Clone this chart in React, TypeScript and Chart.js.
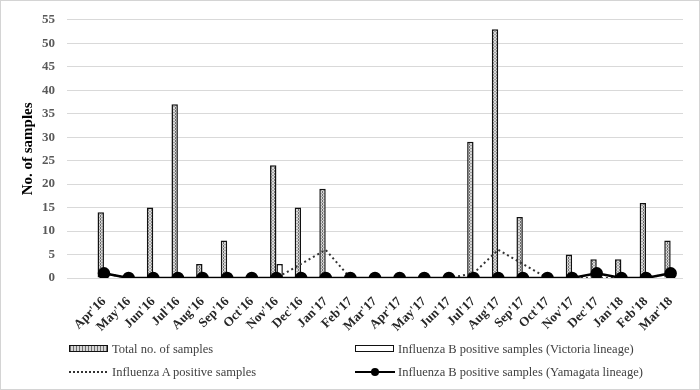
import React, { useEffect, useRef } from "react";
import { Chart, registerables } from "chart.js";
Chart.register(...registerables);

const months = [
  "Apr'16", "May'16", "Jun'16", "Jul'16", "Aug'16", "Sep'16", "Oct'16", "Nov'16", "Dec'16",
  "Jan'17", "Feb'17", "Mar'17", "Apr'17", "May'17", "Jun'17", "Jul'17", "Aug'17", "Sep'17",
  "Oct'17", "Nov'17", "Dec'17", "Jan'18", "Feb'18", "Mar'18",
];
const totalSamples = [14, 0, 15, 37, 3, 8, 0, 24, 15, 19, 0, 0, 0, 0, 0, 29, 53, 13, 0, 5, 4, 4, 16, 8];
const victoriaSamples = [0, 0, 0, 0, 0, 0, 0, 3, 0, 0, 0, 0, 0, 0, 0, 0, 0, 0, 0, 0, 0, 0, 0, 0];
const influenzaASamples = [1, 0, 0, 0, 0, 0, 0, 0, 3, 6, 0, 0, 0, 0, 0, 1, 6, 3, 0, 0, 0, 0, 0, 1];
const yamagataSamples = [1, 0, 0, 0, 0, 0, 0, 0, 0, 0, 0, 0, 0, 0, 0, 0, 0, 0, 0, 0, 1, 0, 0, 1];
const yTicks = [0, 5, 10, 15, 20, 25, 30, 35, 40, 45, 50, 55];

const SERIF = "'Liberation Serif', 'Times New Roman', serif";

function makePattern(): CanvasPattern | string {
  const c = document.createElement("canvas");
  c.width = 3;
  c.height = 3;
  const g = c.getContext("2d");
  if (!g) return "#bbb";
  g.fillStyle = "#d6d6d6";
  g.fillRect(0, 0, 3, 3);
  g.fillStyle = "#6e6e6e";
  g.fillRect(1, 0, 1, 1);
  g.fillRect(1, 2, 1, 1);
  g.fillStyle = "#a0a0a0";
  g.fillRect(0, 1, 1, 1);
  g.fillRect(2, 1, 1, 1);
  return g.createPattern(c, "repeat") || "#bbb";
}

export default function App() {
  const ref = useRef<HTMLCanvasElement | null>(null);

  useEffect(() => {
    if (!ref.current) return;
    const pattern = makePattern();
    const labels = ["", ...months];
    const chart = new Chart(ref.current, {
      type: "bar",
      data: {
        labels,
        datasets: [
          {
            type: "bar",
            label: "Total no. of samples",
            data: [null, ...totalSamples],
            backgroundColor: pattern as any,
            borderColor: "#111111",
            borderWidth: 1.5,
            categoryPercentage: 0.52,
            barPercentage: 1,
            order: 2,
          },
          {
            type: "bar",
            label: "Influenza B positive samples (Victoria lineage)",
            data: [null, ...victoriaSamples],
            backgroundColor: "#ffffff",
            borderColor: "#111111",
            borderWidth: 1.5,
            categoryPercentage: 0.52,
            barPercentage: 1,
            order: 3,
          },
          {
            type: "line",
            label: "Influenza A positive samples",
            data: [null, ...influenzaASamples],
            borderColor: "#333333",
            borderWidth: 2,
            borderDash: [2, 3],
            pointRadius: 0,
            tension: 0,
            order: 1,
          },
          {
            type: "line",
            label: "Influenza B positive samples (Yamagata lineage)",
            data: [null, ...yamagataSamples],
            borderColor: "#000000",
            borderWidth: 2.5,
            pointRadius: 5,
            pointBackgroundColor: "#000000",
            pointBorderColor: "#000000",
            tension: 0,
            order: 0,
          },
        ],
      },
      options: {
        responsive: false,
        animation: false,
        layout: { padding: { top: 17, right: 17, bottom: 0, left: 0 } },
        plugins: {
          legend: { display: false },
          tooltip: { enabled: false },
        },
        scales: {
          x: {
            grid: { display: false },
            border: { display: false },
            ticks: {
              autoSkip: false,
              maxRotation: 45,
              minRotation: 45,
              padding: 8,
              color: "#262626",
              font: { family: SERIF, size: 13, weight: "bold" },
            },
            afterFit: (s: any) => {
              s.height = 112;
            },
          },
          y: {
            min: 0,
            max: 55,
            afterBuildTicks: (s: any) => {
              s.ticks = yTicks.map((v) => ({ value: v }));
            },
            grid: { color: "#d9d9d9", lineWidth: 1, drawTicks: false },
            border: { display: false },
            ticks: {
              padding: 12,
              color: "#595959",
              font: { family: SERIF, size: 13, weight: "bold" },
            },
            title: {
              display: true,
              text: "No. of samples",
              color: "#000000",
              font: { family: SERIF, size: 15, weight: "bold" },
              padding: { top: 19, bottom: 0 },
            },
            afterFit: (s: any) => {
              s.width = 67;
            },
          },
        },
      },
    });
    return () => chart.destroy();
  }, []);

  const textStyle: React.CSSProperties = {
    position: "absolute",
    fontFamily: SERIF,
    fontSize: 12.5,
    color: "#404040",
    whiteSpace: "nowrap",
    lineHeight: "14px",
  };

  return (
    <div style={{ position: "absolute", left: 0, top: 0, width: 700, height: 390, background: "#fff", overflow: "hidden" }}>
      <canvas ref={ref} width={700} height={390} style={{ width: 700, height: 390, display: "block" }} />
      <div
        style={{
          position: "absolute",
          left: 69,
          top: 345,
          width: 37,
          height: 5,
          border: "1.5px solid #111",
          background: "repeating-linear-gradient(90deg, #6e6e6e 0 1px, #d6d6d6 1px 3px)",
        }}
      />
      <div style={{ ...textStyle, left: 112, top: 342 }}>Total no. of samples</div>
      <div
        style={{
          position: "absolute",
          left: 355,
          top: 345,
          width: 37,
          height: 5,
          border: "1.5px solid #111",
          background: "#fff",
        }}
      />
      <div style={{ ...textStyle, left: 398, top: 342 }}>Influenza B positive samples (Victoria lineage)</div>
      <div style={{ position: "absolute", left: 69, top: 371, width: 38, height: 0, borderTop: "2px dotted #333" }} />
      <div style={{ ...textStyle, left: 112, top: 365 }}>Influenza A positive samples</div>
      <div style={{ position: "absolute", left: 355, top: 371, width: 40, height: 2, background: "#000" }} />
      <div style={{ position: "absolute", left: 371, top: 368, width: 8, height: 8, borderRadius: 4, background: "#000" }} />
      <div style={{ ...textStyle, left: 398, top: 365 }}>Influenza B positive samples (Yamagata lineage)</div>
      <div style={{ position: "absolute", left: 0, top: 0, width: 698, height: 388, border: "1px solid #d4d4d4", pointerEvents: "none" }} />
    </div>
  );
}
